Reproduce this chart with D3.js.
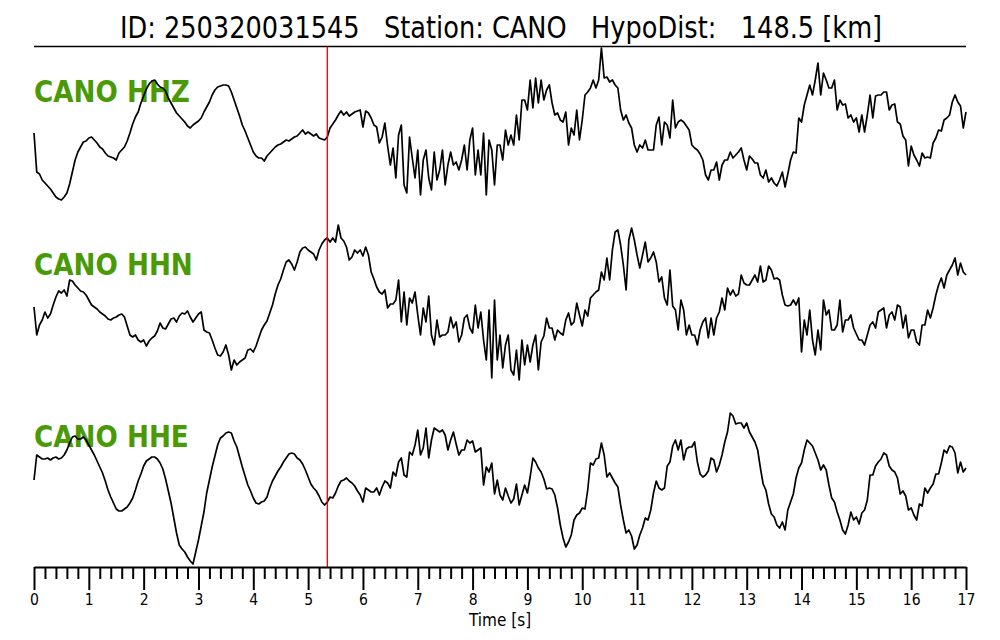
<!DOCTYPE html>
<html>
<head>
<meta charset="utf-8">
<script src="https://cdn.jsdelivr.net/npm/d3@7"></script>
<style>
  html, body { margin: 0; padding: 0; background: #fff; }
  svg text { font-family: "DejaVu Sans", sans-serif; white-space: pre; }
</style>
</head>
<body>
<svg id="chart" width="1000" height="640"></svg>
<script>
// ---- data ----
const eventId = "250320031545";
const station = "CANO";
const hypoDist = 148.5;
const channels = ["HHZ", "HHN", "HHE"];
const sampleInterval = 0.05;   // s
const pArrival = 5.35;         // s
const majorTicks = d3.range(0, 18, 1);
const minorTicks = d3.range(0, 85).map(i => i * 0.2).filter(v => Math.abs(v - Math.round(v)) > 1e-6);

const hhz = [
  -3,-42,-44,-50,-53,-56,-59,-63,-67,-69,
  -70,-67,-63,-54,-42,-30,-22,-17,-12,-11,
  -8,-7,-10,-13,-17,-19,-23,-26,-27,-28,
  -30,-23,-20,-17,-11,-3,6,13,18,27,
  34,41,46,49,50,46,43,42,39,32,
  27,22,17,14,11,8,4,2,5,7,
  9,12,18,23,28,35,40,43,44,45,
  45,44,38,30,22,14,5,-1,-8,-15,
  -22,-26,-28,-28,-31,-26,-23,-20,-17,-15,
  -14,-12,-10,-11,-9,-7,-6,-3,0,-4,
  -2,-4,-6,-4,-8,-9,-10,-7,2,6,
  10,15,19,15,18,14,16,18,19,20,
  3,19,17,12,5,3,-13,-7,7,-16,
  -35,-18,-48,-5,5,-55,-63,-7,-28,-48,
  -20,-65,-30,-20,-48,-60,-22,-50,-40,-20,
  -55,-35,-22,-35,-32,-40,-30,-15,-40,-10,
  2,-45,-20,-45,-3,-65,-10,-20,-55,-15,
  -15,-30,0,-15,-5,-15,15,-10,30,30,
  20,50,22,52,27,50,30,40,45,27,
  15,17,10,8,18,-15,2,-5,20,-10,
  10,35,38,42,50,42,50,82,52,53,
  48,50,45,42,20,10,15,7,2,-15,
  -22,-15,-18,-10,-20,-20,-20,5,13,-15,
  8,5,-8,30,2,8,10,8,4,0,
  -15,-18,-20,-24,-30,-45,-50,-40,-40,-32,
  -50,-35,-30,-30,-22,-28,-25,-22,-18,-30,
  -40,-26,-29,-33,-33,-45,-48,-40,-52,-48,
  -53,-56,-50,-42,-57,-44,-30,-22,-23,12,
  8,25,35,45,35,50,67,35,57,50,
  42,42,50,20,30,25,26,12,15,8,
  12,-2,15,-2,15,35,12,34,35,35,
  38,38,20,25,26,8,6,-6,-10,-36,
  -16,-25,-30,-36,-23,-28,-27,-28,-13,-8,
  0,-1,10,12,15,28,35,28,24,2,
  18
];

const hhn = [
  -7,-35,-25,-20,-12,-18,-14,-5,3,9,
  7,10,4,20,19,15,12,9,8,5,
  0,-5,-7,-9,-12,-14,-16,-19,-20,-18,
  -17,-15,-14,-17,-26,-35,-37,-35,-40,-42,
  -40,-46,-41,-38,-36,-31,-23,-28,-29,-24,
  -19,-18,-22,-16,-13,-14,-11,-17,-22,-18,
  -14,-12,-30,-32,-33,-40,-48,-55,-56,-52,
  -45,-55,-70,-60,-65,-62,-60,-58,-50,-49,
  -52,-46,-38,-30,-25,-21,-13,-5,6,15,
  21,30,38,40,36,30,38,48,52,53,
  50,48,46,40,50,56,60,62,58,62,
  58,75,62,59,53,40,43,50,47,50,
  44,53,45,28,21,13,8,6,10,-8,
  -4,-4,0,20,-22,8,-25,2,-3,8,
  -15,-35,-8,-22,4,-35,-45,-20,-37,-35,
  -35,-32,-17,-28,-22,-42,-35,-18,-15,-28,
  -33,-5,-28,-12,-40,-60,-10,-78,0,-60,
  -35,-68,-45,-35,-70,-75,-50,-80,-40,-65,
  -45,-62,-45,-35,-70,-42,-36,-18,-28,-28,
  -40,-30,-33,-35,-20,-13,-25,-22,-3,-15,
  -26,-10,-16,2,5,8,10,28,20,42,
  20,50,68,70,55,35,10,60,72,60,
  45,32,45,58,38,42,48,38,18,23,
  2,-5,30,-6,-10,-30,0,-10,-35,-25,
  -35,-35,-45,-30,-22,-18,-38,-18,-35,-18,
  -12,2,-10,12,5,10,4,6,25,17,
  15,15,20,25,18,34,18,20,34,30,
  21,22,20,5,-5,-6,-5,0,-5,2,
  -52,-20,-35,-10,-40,-55,-30,-50,0,-15,
  -10,-30,-30,-25,0,-32,-20,-20,-15,-28,
  -34,-40,-40,-45,-35,-25,-22,-28,-12,-10,
  -8,-28,-15,-12,-20,-5,-7,-28,-15,-38,
  -30,-30,-42,-45,-25,-25,-10,-18,-8,5,
  15,22,12,25,30,35,42,25,37,28,
  25
];

const hhe = [
  10,35,33,31,31,32,30,32,33,31,
  32,35,40,47,53,54,51,51,53,50,
  45,40,35,29,23,17,9,0,-7,-13,
  -19,-21,-21,-19,-17,-13,-8,0,9,16,
  24,29,31,33,33,31,27,21,11,-1,
  -13,-28,-43,-55,-59,-62,-67,-71,-74,-62,
  -50,-36,-22,-3,10,23,34,45,52,54,
  57,58,57,49,43,33,23,14,5,-1,
  -8,-13,-14,-12,-11,-7,2,9,14,19,
  23,28,32,36,37,36,32,30,26,20,
  13,6,2,-1,-6,-12,-15,-12,-7,-8,
  -3,4,9,10,12,9,7,4,-1,-5,
  -12,2,0,-2,-2,2,-5,3,9,7,
  2,18,14,28,32,15,13,38,35,45,
  60,35,42,62,32,50,62,60,58,60,
  55,40,50,58,46,35,40,40,50,47,
  49,38,40,42,5,23,18,27,-4,10,
  -5,-10,2,-6,-13,-9,6,-15,-5,5,
  -3,13,32,28,22,18,11,1,2,1,
  -5,-18,-35,-48,-57,-52,-45,-30,-25,-23,
  -18,-19,0,27,25,31,32,47,35,13,
  17,12,7,3,-15,-30,-43,-40,-46,-59,
  -55,-45,-38,-28,-30,-20,-3,9,2,0,
  2,24,28,44,50,40,50,30,41,43,
  43,48,28,16,13,15,19,32,30,18,
  25,35,48,58,77,74,66,67,67,62,
  67,58,53,48,40,22,6,0,-14,-24,
  -27,-35,-38,-32,-40,-20,-12,-4,12,22,
  27,40,50,47,44,37,30,20,25,20,
  5,-8,-12,-22,-30,-40,-44,-35,-22,-30,
  -27,-34,-23,-20,-10,15,15,24,28,31,
  37,35,24,20,18,12,-4,-1,-6,-20,
  -18,-25,-30,-14,-16,2,-3,2,6,16,
  16,27,40,37,44,43,37,17,28,18,
  22
];

const traces = [hhz, hhn, hhe];

// ---- layout ----
const svg = d3.select("#chart");
const left = 34, right = 966, axisY = 567, topLine = 46.5;
const squeeze = 0.875;
const labelColor = "#4a9a08";
const bandCenters = [130, 300, 490];

const x = d3.scaleLinear().domain([0, 17]).range([left, right]);
const yScales = bandCenters.map(c => d3.scaleLinear().domain([-100, 100]).range([c + 100, c - 100]));

// title
svg.append("text")
  .attr("xml:space", "preserve")
  .attr("transform", `translate(501,38) scale(${squeeze},1)`)
  .attr("text-anchor", "middle")
  .attr("font-size", 29.3)
  .attr("fill", "#000")
  .text(`ID: ${eventId}   Station: ${station}   HypoDist:   ${hypoDist.toFixed(1)} [km]`);

// top line
svg.append("line")
  .attr("x1", left).attr("x2", right)
  .attr("y1", topLine).attr("y2", topLine)
  .attr("stroke", "#000").attr("stroke-width", 1.3);

// channel labels
const labelBaselines = [102, 274.5, 447];
channels.forEach((ch, i) => {
  svg.append("text")
    .attr("transform", `translate(${left},${labelBaselines[i]}) scale(${squeeze},1)`)
    .attr("font-size", 30)
    .attr("font-weight", "bold")
    .attr("fill", labelColor)
    .text(`${station} ${ch}`);
});

// traces
traces.forEach((data, i) => {
  const line = d3.line()
    .x((d, k) => x(k * sampleInterval))
    .y(d => yScales[i](d));
  svg.append("path")
    .datum(data)
    .attr("d", line)
    .attr("fill", "none")
    .attr("stroke", "#000")
    .attr("stroke-width", 1.7)
    .attr("stroke-linejoin", "round");
});

// P arrival marker
svg.append("line")
  .attr("x1", x(pArrival)).attr("x2", x(pArrival))
  .attr("y1", topLine).attr("y2", axisY)
  .attr("stroke", "#f00000").attr("stroke-width", 1.3);

// bottom axis: minor ticks
const minorAxis = d3.axisBottom(x).tickValues(minorTicks).tickSize(12).tickSizeOuter(0).tickFormat("");
const gMinor = svg.append("g").attr("transform", `translate(0,${axisY})`).call(minorAxis);
gMinor.select(".domain").remove();
gMinor.selectAll(".tick line").attr("stroke", "#000").attr("stroke-width", 2);

// major ticks
const majorAxis = d3.axisBottom(x).tickValues(majorTicks).tickSize(23).tickSizeOuter(0)
  .tickPadding(4).tickFormat(d3.format("d"));
const gMajor = svg.append("g").attr("transform", `translate(0,${axisY})`).call(majorAxis);
gMajor.select(".domain").attr("stroke", "#000").attr("stroke-width", 2);
gMajor.selectAll(".tick line").attr("stroke", "#000").attr("stroke-width", 2);
gMajor.selectAll(".tick text")
  .attr("font-family", "DejaVu Sans")
  .attr("font-size", 16)
  .attr("fill", "#000")
  .attr("transform", `scale(${squeeze},1)`);

// x label
svg.append("text")
  .attr("transform", `translate(500,626) scale(${squeeze},1)`)
  .attr("text-anchor", "middle")
  .attr("font-size", 17.5)
  .attr("fill", "#000")
  .text("Time [s]");
</script>
</body>
</html>
